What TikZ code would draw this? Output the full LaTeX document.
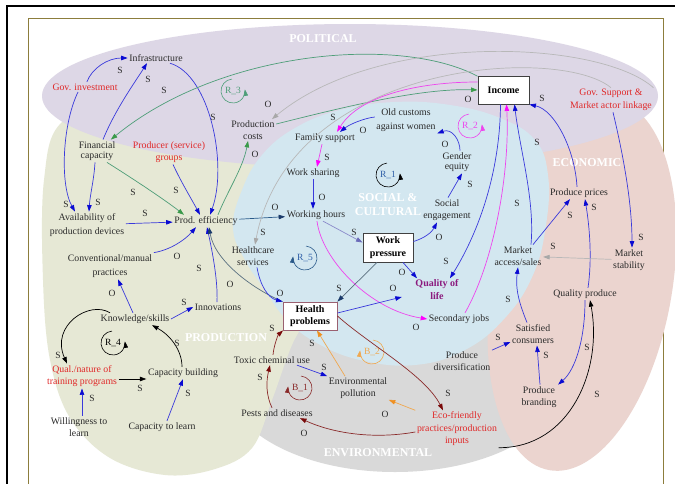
\documentclass[tikz,border=0pt]{standalone}
\usepackage{fontspec}
\setmainfont{Liberation Serif}
\usetikzlibrary{arrows.meta}
% region fills
\definecolor{polfill}{HTML}{DDD7E6}
\definecolor{prodfill}{HTML}{E6E8D5}
\definecolor{socfill}{HTML}{D3E7F0}
\definecolor{ecofill}{HTML}{EBD4CF}
\definecolor{envfill}{HTML}{D9D9D9}
\definecolor{framecol}{HTML}{8C7D3C}
% link colours
\definecolor{lnblue}{HTML}{3A3ADB}
\definecolor{hdblue}{HTML}{0A0AD2}
\definecolor{lngreen}{HTML}{4E9E78}
\definecolor{hdgreen}{HTML}{3A9A4A}
\definecolor{lnmag}{HTML}{EE44EE}
\definecolor{hdmag}{HTML}{FF00FF}
\definecolor{lngrey}{HTML}{B8B8B8}
\definecolor{hdgrey}{HTML}{A8A8A8}
\definecolor{lnred}{HTML}{8A2A2A}
\definecolor{hdred}{HTML}{7A0A0A}
\definecolor{lnorange}{HTML}{F0A850}
\definecolor{hdorange}{HTML}{F09020}
\definecolor{lnslate}{HTML}{5A7080}
\definecolor{hdnavy}{HTML}{1A3A6A}
\definecolor{lnnavy}{HTML}{2A5A8A}
\definecolor{lnlilac}{HTML}{8A8ACA}
\definecolor{hdlilac}{HTML}{6A6AB8}
% text colours
\definecolor{txt}{HTML}{2A2A2A}
\definecolor{txtred}{HTML}{E02828}
\definecolor{qolcol}{HTML}{8B1A7E}
\definecolor{boxcol}{HTML}{404040}
\definecolor{boxred}{HTML}{9A6070}
\definecolor{loopblue}{HTML}{2F5FA8}

% loop marker turning anticlockwise, arrowhead on the right
\newcommand{\cldloopR}[4]{%
  \begin{scope}[shift={#1},yscale=-1]
    \draw[#2,line width=0.6pt,-{Triangle[length=6.5pt,width=4.5pt]}]
      (95:12) arc[start angle=95,end angle=368,radius=12];
    \node[inner sep=0pt,text=#4,font=\fontsize{9.5}{10}\selectfont] at (0,0) {#3};
  \end{scope}}
% loop marker turning clockwise, arrowhead on the left
\newcommand{\cldloopL}[4]{%
  \begin{scope}[shift={#1},yscale=-1]
    \draw[#2,line width=0.6pt,-{Triangle[length=6.5pt,width=4.5pt]}]
      (85:12) arc[start angle=85,end angle=-188,radius=12];
    \node[inner sep=0pt,text=#4,font=\fontsize{9.5}{10}\selectfont] at (0,0) {#3};
  \end{scope}}

\begin{document}
\begin{tikzpicture}[x=1pt,y=-1pt,
  var/.style={font=\fontsize{9.8}{12.5}\selectfont,align=center,inner sep=1.5pt,text=txt},
  redvar/.style={var,text=txtred},
  box/.style={var,draw=boxcol,line width=0.9pt,fill=white,
    font=\fontsize{10}{12.5}\selectfont\bfseries,text=black},
  pol/.style={font=\fontsize{9.5}{10}\selectfont,inner sep=0pt,text=txt},
  region/.style={font=\fontsize{12}{13}\selectfont\bfseries,text=white,inner sep=0pt},
  lk/.style={line width=0.7pt},
  lb/.style={lk,draw=lnblue,-{Triangle[length=6.5pt,width=4.5pt,color=hdblue]}},
  lg/.style={lk,draw=lngreen,-{Triangle[length=6.5pt,width=4.5pt,color=hdgreen]}},
  lm/.style={lk,draw=lnmag,-{Triangle[length=6.5pt,width=4.5pt,color=hdmag]}},
  lgr/.style={lk,draw=lngrey,-{Triangle[length=6.5pt,width=4.5pt,color=hdgrey]}},
  lr/.style={lk,draw=lnred,-{Triangle[length=6.5pt,width=4.5pt,color=hdred]}},
  lo/.style={lk,draw=lnorange,-{Triangle[length=6.5pt,width=4.5pt,color=hdorange]}},
  lk2/.style={lk,draw=black,-{Triangle[length=6.5pt,width=4.5pt,color=black]}},
  ls/.style={lk,draw=lnslate,-{Triangle[length=6.5pt,width=4.5pt,color=hdnavy]}},
  ln/.style={lk,draw=lnnavy,-{Triangle[length=6.5pt,width=4.5pt,color=hdnavy]}},
  ll/.style={lk,draw=lnlilac,-{Triangle[length=6.5pt,width=4.5pt,color=hdlilac]}},
]
\useasboundingbox (0,0) rectangle (675,483);
\fill[white] (0,0) rectangle (675,483);

% ---------- frame ----------
\draw[line width=2.5pt] (7,490) -- (7,6) -- (680,6);
\draw[framecol,line width=0.9pt] (28,490) -- (28,18) -- (663,18) -- (663,490);

% ---------- domains ----------
\fill[envfill] (395,382) ellipse[x radius=168,y radius=90];
\fill[ecofill,rotate around={-10:(582,285)}] (582,285) ellipse[x radius=90,y radius=188];
\fill[prodfill] plot[smooth cycle,tension=0.6] coordinates {
  (44,180) (62,122) (130,98) (230,100) (305,140) (332,220) (315,300)
  (292,345) (272,400) (252,448) (215,469) (165,475) (110,458) (70,418)
  (50,360) (43,280)};
\fill[polfill] (350,96) ellipse[x radius=308,y radius=72];
\fill[socfill] plot[smooth cycle,tension=0.7] coordinates {
  (233,228) (242,190) (262,155) (295,128) (340,110) (395,102) (450,105)
  (500,118) (535,140) (548,175) (546,225) (533,275) (505,318) (465,350)
  (415,365) (360,360) (315,342) (285,318) (265,290) (245,260)};

\node[region] (tpol) at (323,39) {POLITICAL};
\node[region,align=center] (tsoc) at (388,205) {SOCIAL \&\\[1pt]CULTURAL};
\node[region] (tprod) at (226,338) {PRODUCTION};
\node[region] (teco) at (587,163) {ECONOMIC};
\node[region] (tenv) at (378,453) {ENVIRONMENTAL};

% ---------- variables ----------
\node[var] (infra) at (156,58) {Infrastructure};
\node[redvar] (govinv) at (85,87) {Gov. investment};
\node[var] (prodcost) at (253,130) {Production\\[-1pt]costs};
\node[var] (fincap) at (97,151) {Financial\\[-2pt]capacity};
\node[redvar] (prodgrp) at (169,152) {Producer (service)\\groups};
\node[box,minimum width=51pt,minimum height=28pt] (income) at (503.5,90) {Income};
\node[redvar] (govsup) at (611,100) {Gov. Support \&\\Market actor linkage};
\node[var] (oldcust) at (406,120) {Old customs\\[2pt]against women};
\node[var] (famsup) at (325,138) {Family support};
\node[var] (gender) at (457,162) {Gender\\[-2pt]equity};
\node[var] (worksh) at (313,173) {Work sharing};
\node[var] (avail) at (87,225) {Availability of\\[2pt]production devices};
\node[var] (prodeff) at (206,221) {Prod. efficiency};
\node[var] (workhrs) at (316,215) {Working hours};
\node[var] (social) at (447,210) {Social\\engagement};
\node[var] (prices) at (579,193) {Produce prices};
\node[var] (hcare) at (253,256) {Healthcare\\services};
\node[var] (conv) at (110,266) {Conventional/manual\\[2pt]practices};
\node[box,minimum width=50pt,minimum height=29pt] (workp) at (388,247.5) {Work\\pressure};
\node[var] (market) at (518,256) {Market\\access/sales};
\node[var] (stab) at (629,260) {Market\\stability};
\node[var,font=\fontsize{10}{13}\selectfont\bfseries,text=qolcol] (qol) at (437,290) {Quality of\\life};
\node[var] (qprod) at (585,294) {Quality produce};
\node[var] (innov) at (218,307) {Innovations};
\node[box,draw=boxred,minimum width=54pt,minimum height=28pt] (healthp) at (310,316) {Health\\problems};
\node[var] (secjobs) at (459,319) {Secondary jobs};
\node[var] (know) at (135,319) {Knowledge/skills};
\node[var] (satis) at (533,334) {Satisfied\\consumers};
\node[var] (toxic) at (272,360) {Toxic cheminal use};
\node[var] (diver) at (462,361) {Produce\\[-1pt]diversification};
\node[redvar] (qual) at (82,376) {Qual./nature of\\training programs};
\node[var] (capb) at (183,373) {Capacity building};
\node[var] (envp) at (358,388) {Environmental\\[-1pt]pollution};
\node[var] (brand) at (539,397) {Produce\\branding};
\node[var] (pests) at (277,413) {Pests and diseases};
\node[var] (willing) at (79,427) {Willingness to\\learn};
\node[var] (caplearn) at (162,427) {Capacity to learn};
\node[redvar] (eco) at (457,429) {Eco-friendly\\practices/production\\inputs};

% ---------- loop markers ----------
\cldloopR{(233,91)}{lngreen}{R\_3}{lngreen}
\cldloopR{(470,126)}{lnmag}{R\_2}{lnmag}
\cldloopR{(388,175)}{black}{R\_1}{loopblue}
\cldloopL{(305,258)}{lnnavy}{R\_5}{loopblue}
\cldloopR{(113,343)}{black}{R\_4}{black}
\cldloopL{(300,388)}{lnred}{B\_1}{lnred}
\cldloopL{(372,352)}{lnorange}{B\_2}{lnorange}

% ---------- links: production ----------
\draw[lb] (govinv) .. controls (92,68) and (108,58) .. (infra);
\draw[lb] ([xshift=-7pt]govinv.south) .. controls (62,125) and (60,185) .. ([xshift=-12pt]avail.north);
\draw[lb] ([xshift=6pt]fincap.north) .. controls (115,110) and (135,82) .. ([xshift=-9pt]infra.south);
\draw[lb] ([xshift=-2pt]fincap.south) .. controls (94,180) and (90,195) .. ([xshift=2pt]avail.north);
\draw[lb] ([xshift=14pt]infra.south) .. controls (210,75) and (228,165) .. ([xshift=4pt]prodeff.north);
\draw[lb] ([xshift=4pt]prodgrp.south) .. controls (180,180) and (192,200) .. ([xshift=-6pt]prodeff.north);
\draw[lg] ([xshift=10pt]fincap.south) .. controls (135,180) and (165,200) .. ([xshift=-22pt]prodeff.north);
\draw[lb] (avail) -- (prodeff);
\draw[lb] (conv.north east) .. controls (170,250) and (185,240) .. ([xshift=-10pt]prodeff.south);
\draw[lb] ([xshift=-1pt]innov.north) .. controls (218,280) and (212,250) .. ([xshift=1pt]prodeff.south);
\draw[ls] (healthp.north west) .. controls (255,290) and (215,262) .. ([xshift=3pt]prodeff.south);
\draw[ln] (prodeff) -- (workhrs);
\draw[lb] ([xshift=-2pt]know.north) -- ([xshift=8pt]conv.south);
\draw[lb] (know.east) -- (innov.west);
\draw[lk2] ([xshift=-25pt]know.north) .. controls (90,300) and (50,325) .. ([xshift=-15pt]qual.north);
\draw[lk2] ([xshift=-1pt]capb.north) .. controls (182,350) and (170,335) .. ([xshift=17pt]know.south);
\draw[lk2] ([yshift=-3pt]qual.east) -- ([yshift=-6pt]capb.west);
\draw[lb] ([xshift=3pt]willing.north) -- (qual.south);
\draw[lb] ([xshift=5pt]caplearn.north) -- (capb.south);
\draw[lb] ([xshift=4pt]hcare.south) .. controls (260,285) and (268,298) .. (healthp.north west);

% ---------- links: income loops ----------
\draw[lg] (income) .. controls (400,35) and (220,50) .. (fincap);
\draw[lg] ([xshift=12pt]prodeff.north) .. controls (228,190) and (243,168) .. ([xshift=-5pt]prodcost.south);
\draw[lg] ([yshift=6pt]prodcost.east) .. controls (340,108) and (420,88) .. (income.west);
\draw[lgr] (govsup.north east) .. controls (600,40) and (380,30) .. ([xshift=19pt]prodcost.north);
\draw[lgr] (govsup.north) .. controls (560,45) and (290,60) .. ([xshift=2pt]hcare.north);
\draw[lm] ([yshift=8pt]income.west) .. controls (420,82) and (360,95) .. ([xshift=12pt]famsup.north);
\draw[lb] ([yshift=3pt]oldcust.west) .. controls (365,118) and (350,124) .. ([xshift=15pt]famsup.north);
\draw[lb] ([xshift=3pt]gender.north) .. controls (460,140) and (452,128) .. (oldcust.south east);
\draw[lb] ([xshift=1pt]social.north) -- ([xshift=5pt]gender.south);
\draw[lb] ([yshift=6pt]workp.east) .. controls (425,238) and (432,232) .. ([xshift=-10pt]social.south);
\draw[ll] ([xshift=7pt]workhrs.south) -- ([yshift=5pt]workp.west);
\draw[lb] (worksh.south) -- ([xshift=-3pt]workhrs.north);
\draw[lm] ([xshift=-3pt]famsup.south) -- ([xshift=4pt]worksh.north);
\draw[lm] ([xshift=1pt]workhrs.south) .. controls (322,260) and (370,310) .. (secjobs.west);
\draw[lm] ([xshift=6pt]secjobs.north) .. controls (495,260) and (510,170) .. ([xshift=3pt]income.south);
\draw[lb] ([xshift=-3pt]income.south) .. controls (500,170) and (480,230) .. ([xshift=13pt]qol.north);
\draw[lb] ([xshift=13pt]market.north) .. controls (535,200) and (520,150) .. ([xshift=11pt]income.south);
\draw[lb] ([xshift=-2pt]prices.north) .. controls (575,150) and (555,110) .. (income.south east);

% ---------- links: economic ----------
\draw[lb] ([xshift=2pt]govsup.south) .. controls (622,150) and (632,200) .. ([xshift=3pt]stab.north);
\draw[lb] ([xshift=15pt]market.north) -- ([xshift=-9pt]prices.south);
\draw[lb] ([xshift=3pt]qprod.north) .. controls (592,260) and (590,230) .. ([xshift=6pt]prices.south);
\draw[lb] (qprod.south) .. controls (585,340) and (575,370) .. (brand.north east);
\draw[lb] ([xshift=1pt]brand.north) -- ([xshift=4pt]satis.south);
\draw[lb] (diver.north east) -- ([yshift=-8pt]satis.west);
\draw[lb] ([xshift=-6pt]satis.north) .. controls (520,305) and (515,290) .. (market.south);
\draw[lgr] (stab) -- (market);
\draw[lk2] (eco.south east) .. controls (570,448) and (603,370) .. ([xshift=5pt]qprod.south);

% ---------- links: environmental / health ----------
\draw[lr] (healthp.east) .. controls (370,345) and (425,375) .. ([xshift=-14pt]eco.north);
\draw[lr] ([yshift=-3pt]eco.west) .. controls (370,440) and (330,432) .. ([xshift=23pt]pests.south);
\draw[lr] ([xshift=-5pt]pests.north) .. controls (266,395) and (266,382) .. ([xshift=-2pt]toxic.south);
\draw[lr] ([xshift=1pt]toxic.north) .. controls (274,345) and (278,335) .. ([xshift=-27pt]healthp.south);
\draw[lb] ([xshift=25pt]toxic.south) -- (envp.north west);
\draw[lo] ([xshift=-13pt]envp.north) -- ([xshift=7pt]healthp.south);
\draw[lo] (eco.north west) -- (envp.south east);
\draw[ls] ([xshift=-11pt]workp.south) -- (healthp.north east);
\draw[lb] ([yshift=3pt]healthp.east) -- ([xshift=-12pt,yshift=-7pt]qol.west);
\draw[lb] ([xshift=15pt]workp.south) -- ([xshift=-20pt]qol.north);

% ---------- polarities ----------
\foreach \n/\px/\py/\t in {
  1/120/70/S, 2/148/79/S, 3/164/90/S, 4/213/117/S, 5/268/104/O, 6/255/154/O,
  7/333/117/S, 8/363/130/O, 9/468/99/O, 10/542/98/S, 11/445/144/O, 12/537/142/S,
  13/327/157/S, 14/66/204/S, 15/98/202/S, 16/133/192/S, 17/176/190/S, 18/145/213/S,
  19/275/207/O, 20/322/197/O, 21/263/232/S, 22/177/256/O, 23/199/268/S, 24/230/284/O,
  25/112/293/O, 26/280/293/O, 27/184/302/S, 28/354/232/S, 29/470/184/S, 30/439/237/O,
  31/402/272/O, 32/446/261/S, 33/517/203/S, 34/570/215/S, 35/594/207/S, 36/553/246/S,
  37/641/237/S, 38/339/288/S, 39/393/288/O, 40/416/327/O, 41/508/299/S, 42/498/337/S,
  43/546/355/S, 44/587/347/S, 45/597/394/S, 46/448/393/S, 47/385/414/O, 48/304/433/O,
  49/312/343/S, 50/324/367/S, 51/260/377/S, 52/272/328/S, 53/177/343/S, 54/58/355/S,
  55/140/388/S, 56/92/398/S, 57/188/393/S}
  \node[pol] (pl\n) at (\px,\py) {\t};
\end{tikzpicture}
\end{document}
